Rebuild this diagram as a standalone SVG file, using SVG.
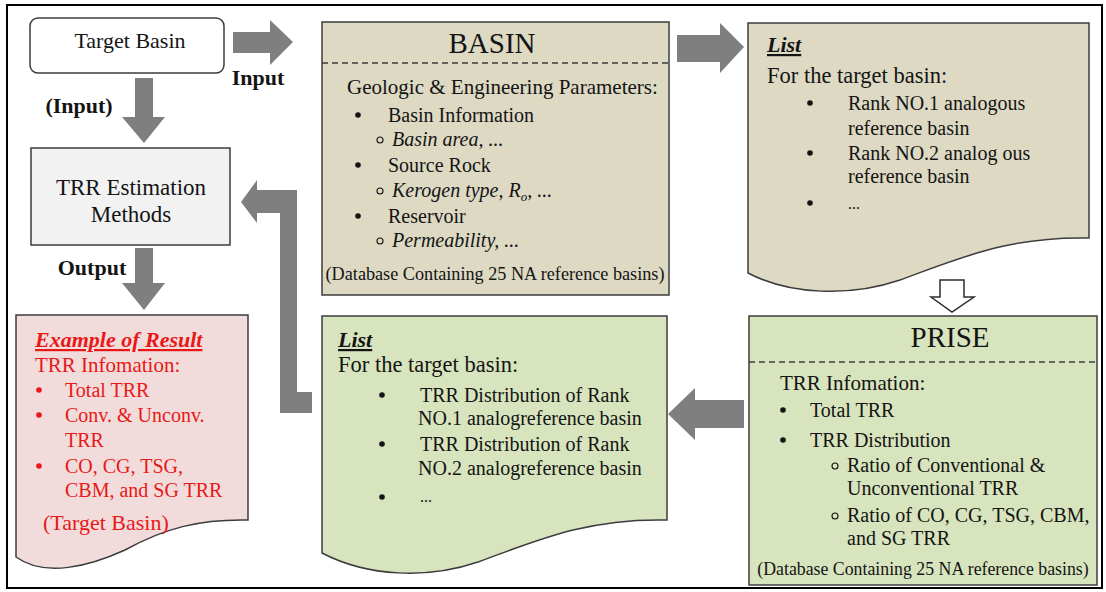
<svg xmlns="http://www.w3.org/2000/svg" width="1106" height="592" viewBox="0 0 1106 592">
  <style>
    text { font-family: "Liberation Serif", "Times New Roman", serif; fill: #141414; }
    .box { stroke: #3c3c3c; stroke-width: 1.5; }
    .tan { fill: #ddd9c3; }
    .green { fill: #d7e4bd; }
    .pink { fill: #f2dcdb; }
    .grey { fill: #f2f2f2; }
    .dash { stroke: #3c3c3c; stroke-width: 1.5; stroke-dasharray: 6 4; fill: none; }
    .arrow { fill: #7f7f7f; }
    .hollow { fill: #ffffff; stroke: #2e2e2e; stroke-width: 1.5; }
    .dot { fill: #141414; }
    .ring { fill: none; stroke: #141414; stroke-width: 1.1; }
    .red { fill: #e81818; }
    .reddot { fill: #e81818; }
    .body { font-size: 20px; }
    .head { font-size: 22px; }
    .title { font-size: 29px; }
    .db { font-size: 18.2px; }
    .lbl { font-size: 22px; font-weight: bold; }
    .listhd { font-size: 22px; font-weight: bold; font-style: italic; text-decoration: underline; }
    .it { font-style: italic; }
  </style>

  <!-- outer frame -->
  <rect x="7" y="5" width="1095" height="583" fill="#ffffff" stroke="#000000" stroke-width="2"/>

  <!-- connectors: block arrows and their labels -->
  <g id="connectors">
    <path class="arrow" d="M233,32 H270 V20 L293,42 L270,65 V53 H233 Z"/>
    <text class="lbl" x="258" y="85" text-anchor="middle">Input</text>

    <path class="arrow" d="M135,78 H153 V117 H165 L144,143 L122,117 H135 Z"/>
    <text class="lbl" x="79" y="113" text-anchor="middle">(Input)</text>

    <path class="arrow" d="M135,248 H153 V283 H165 L144,310 L122,283 H135 Z"/>
    <text class="lbl" x="92" y="275" text-anchor="middle">Output</text>

    <path class="arrow" d="M677,35 H720 V23 L744,47 L720,73 V62 H677 Z"/>

    <path class="arrow" d="M241,202 L257,180 V190 H297 V392 H312 V413 H280 V213 H257 V223 Z"/>

    <path class="arrow" d="M744,400 H695 V388 L668,414 L695,440 V428 H744 Z"/>

    <path class="hollow" d="M940,280 H964 V297 H974 L952,312 L931,297 H940 Z"/>
  </g>

  <!-- Target Basin -->
  <g id="target-basin">
    <rect class="box" x="30" y="18" width="194" height="55" rx="8" fill="#ffffff"/>
    <text class="head" x="130" y="48" text-anchor="middle">Target Basin</text>
  </g>

  <!-- TRR Estimation Methods -->
  <g id="trr-methods">
    <rect class="box grey" x="31" y="148" width="199" height="97"/>
    <text x="131" y="195" text-anchor="middle" font-size="23">TRR Estimation</text>
    <text x="131" y="222" text-anchor="middle" font-size="23">Methods</text>
  </g>

  <!-- BASIN database -->
  <g id="basin">
    <rect class="box tan" x="322" y="22" width="347" height="273"/>
    <text class="title" x="492" y="53" text-anchor="middle">BASIN</text>
    <line class="dash" x1="322" y1="63" x2="669" y2="63"/>
    <text x="347" y="94" font-size="21">Geologic &amp; Engineering Parameters:</text>
    <circle class="dot" cx="358" cy="115" r="2.8"/>
    <text class="body" x="388" y="122">Basin Information</text>
    <circle class="ring" cx="380" cy="140" r="3"/>
    <text class="body it" x="392" y="146">Basin area, ...</text>
    <circle class="dot" cx="358" cy="165" r="2.8"/>
    <text class="body" x="388" y="172">Source Rock</text>
    <circle class="ring" cx="380" cy="191" r="3"/>
    <text class="body it" x="392" y="197">Kerogen type, R<tspan font-size="13" dy="4">o</tspan><tspan dy="-4">, ...</tspan></text>
    <circle class="dot" cx="358" cy="216" r="2.8"/>
    <text class="body" x="388" y="223">Reservoir</text>
    <circle class="ring" cx="380" cy="241" r="3"/>
    <text class="body it" x="392" y="247">Permeability, ...</text>
    <text class="db" x="495" y="280" text-anchor="middle">(Database Containing 25 NA reference basins)</text>
  </g>

  <!-- ranked analogous basins -->
  <g id="list-analogs">
    <path class="box tan" d="M748,23 H1089 V238 C1010,236 960,258 900,280 C850,297 790,295 748,273 Z"/>
    <text class="listhd" x="767" y="52">List</text>
    <text x="767" y="83" font-size="22.5">For the target basin:</text>
    <circle class="dot" cx="810" cy="103" r="2.8"/>
    <text class="body" x="848" y="110">Rank NO.1 analogous</text>
    <text class="body" x="848" y="135">reference basin</text>
    <circle class="dot" cx="810" cy="153" r="2.8"/>
    <text class="body" x="848" y="160">Rank NO.2 analog ous</text>
    <text class="body" x="848" y="183">reference basin</text>
    <circle class="dot" cx="810" cy="203" r="2.8"/>
    <text x="848" y="209" font-size="16">...</text>
  </g>

  <!-- PRISE -->
  <g id="prise">
    <rect class="box green" x="749" y="316" width="348" height="269"/>
    <text class="title" x="950" y="347" text-anchor="middle">PRISE</text>
    <line class="dash" x1="749" y1="362" x2="1097" y2="362"/>
    <text x="780" y="390" font-size="21">TRR Infomation:</text>
    <circle class="dot" cx="783" cy="410" r="2.8"/>
    <text class="body" x="810" y="417">Total TRR</text>
    <circle class="dot" cx="783" cy="440" r="2.8"/>
    <text class="body" x="810" y="447">TRR Distribution</text>
    <circle class="ring" cx="835" cy="466" r="3"/>
    <text class="body" x="847" y="472">Ratio of Conventional &amp;</text>
    <text class="body" x="847" y="495">Unconventional TRR</text>
    <circle class="ring" cx="835" cy="516" r="3"/>
    <text class="body" x="847" y="522">Ratio of CO, CG, TSG, CBM,</text>
    <text class="body" x="847" y="545">and SG TRR</text>
    <text x="923" y="575" text-anchor="middle" font-size="17.8">(Database Containing 25 NA reference basins)</text>
  </g>

  <!-- TRR distributions of analogous basins -->
  <g id="list-distribution">
    <path class="box green" d="M322,316 H667 V520 C588,518 538,540 478,562 C428,579 368,577 322,553 Z"/>
    <text class="listhd" x="338" y="347">List</text>
    <text x="338" y="372" font-size="22.5">For the target basin:</text>
    <circle class="dot" cx="382" cy="395" r="2.8"/>
    <text class="body" x="420" y="402">TRR Distribution of Rank</text>
    <text class="body" x="418" y="425">NO.1 analogreference basin</text>
    <circle class="dot" cx="382" cy="444" r="2.8"/>
    <text class="body" x="420" y="451">TRR Distribution of Rank</text>
    <text class="body" x="418" y="475">NO.2 analogreference basin</text>
    <circle class="dot" cx="382" cy="497" r="2.8"/>
    <text x="420" y="502" font-size="16">...</text>
  </g>

  <!-- example result for the target basin -->
  <g id="result">
    <path class="box pink" d="M16,315 H248 V520 C200,519 165,528 125,550 C90,566 45,578 16,557 Z"/>
    <text class="listhd red" x="35" y="347">Example of Result</text>
    <text class="red" x="35" y="372" font-size="21">TRR Infomation:</text>
    <circle class="reddot" cx="39" cy="390" r="2.8"/>
    <text class="body red" x="65" y="397">Total TRR</text>
    <circle class="reddot" cx="39" cy="415" r="2.8"/>
    <text class="body red" x="65" y="422">Conv. &amp; Unconv.</text>
    <text class="body red" x="65" y="447">TRR</text>
    <circle class="reddot" cx="39" cy="466" r="2.8"/>
    <text class="body red" x="65" y="473">CO, CG, TSG,</text>
    <text class="body red" x="65" y="497">CBM, and SG TRR</text>
    <text class="red" x="43" y="530" font-size="22">(Target Basin)</text>
  </g>
</svg>
